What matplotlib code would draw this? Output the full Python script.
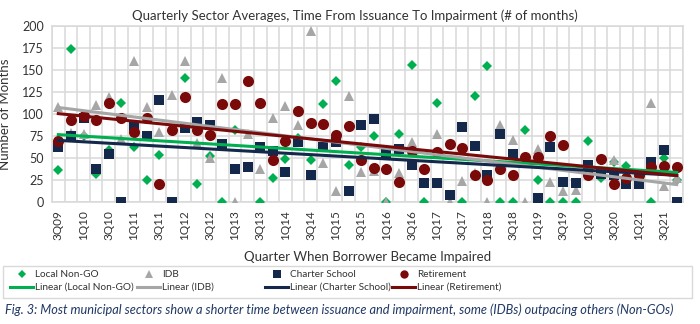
import numpy as np
import matplotlib
matplotlib.use("Agg")
import matplotlib.pyplot as plt
from matplotlib.patches import Rectangle

nan = np.nan
quarters = []
for y in range(9, 22):
    for q in range(1, 5):
        if y == 9 and q < 3:
            continue
        quarters.append(f"{q}Q{y:02d}")

local_non_go = [36, 174, 75, 32, 59, 113, 63, 25, 53, nan, 141, 20, 52, 0, 82, nan, 0, 27, 49, 73,
                48, 111, 138, 42, 63, 75, 0, 77, 156, 0, 113, nan, 0, 121, 154, 0, 0, 82, 25, 0,
                0, 0, 69, 27, 45, 41, nan, 0, 50, 25]
idb = [108, 78, 77, 110, 119, 72, 160, 108, 80, 122, 160, 67, 50, 141, 0, 77, 38, 96, 109, 88,
       194, 44, 13, 120, 34, 35, 0, 33, 68, nan, 77, 0, 24, 33, 0, 88, 70, 0, 60, 23,
       13, 14, nan, nan, 48, nan, nan, 113, 18, 27]
charter = [63, 75, 96, 37, 54, 0, 86, 75, 116, 0, 84, 91, 88, 66, 37, 40, 63, 58, 34, 68,
           31, 62, 68, 13, 87, 94, 55, 60, 42, 22, 22, 8, 85, 64, 31, 77, 55, nan, 5, 62,
           23, 22, 42, 32, 31, 20, 20, 45, 59, 0]
retirement = [69, 93, 98, 93, 112, 96, 80, 96, 20, 82, 119, 82, 76, 111, 111, 137, 113, 48, 69, 103,
              90, 89, 76, 86, 48, 39, 37, 23, 58, 37, 57, 66, 61, 31, 25, 37, 31, 51, 51, 75,
              65, nan, 31, 49, 21, 27, 31, 40, 41, 40]

series = [
    ("Local Non-GO", local_non_go, "D", 5.5, "#00B050"),
    ("IDB", idb, "^", 7.5, "#A6A6A6"),
    ("Charter School", charter, "s", 7.5, "#14284B"),
    ("Retirement", retirement, "o", 8, "#7A0A0A"),
]

plt.rcParams['font.family'] = ['Lato', 'DejaVu Sans']
txt = '#333333'

fig = plt.figure(figsize=(7.0, 3.24), dpi=100)
ax = fig.add_axes([52/700, 1-202/324, (683-52)/700, (202-26)/324])

x = np.arange(len(quarters))
handles = []
for name, vals, mk, ms, col in series:
    v = np.array(vals, dtype=float)
    h = ax.plot(x, v, linestyle='none', marker=mk, markersize=ms, color=col,
                markeredgewidth=0, zorder=3, label=name)[0]
    m = ~np.isnan(v)
    k, b = np.polyfit(x[m], v[m], 1)
    lh = ax.plot(x, k*x + b, color=col, linewidth=2.2, zorder=4,
                 label=f"Linear ({name})")[0]
    handles.append((h, lh))

ax.set_xlim(-0.5, len(quarters)-0.5)
ax.set_ylim(0, 200)
ax.set_yticks(np.arange(0, 201, 25))
ax.set_xticks(x[::2])
ax.set_xticklabels(quarters[::2], rotation=90, fontsize=8.5, color=txt)
ax.set_xticks(np.arange(-0.5, len(quarters), 1), minor=True)
ax.tick_params(axis='y', labelsize=9, colors=txt, length=0, pad=6)
ax.tick_params(axis='x', which='both', length=0, pad=6)
ax.grid(True, axis='y', which='major', color='#D9D9D9', linewidth=1.1)
ax.grid(True, axis='x', which='minor', color='#D9D9D9', linewidth=1.1)
ax.grid(False, axis='x', which='major')
ax.set_axisbelow(True)
for s in ax.spines.values():
    s.set_color('#D9D9D9')
    s.set_linewidth(1.1)

ax.set_ylabel("Number of Months", fontsize=9.5, color=txt, labelpad=8)
ax.set_xlabel("Quarter When Borrower Became Impaired", fontsize=9.5, color=txt, labelpad=8)
fig.text(0.507, 1-16/324, "Quarterly Sector Averages, Time From Issuance To Impairment (# of months)",
         ha='center', va='center', fontsize=9.5, color=txt)

# legend box
fig.patches.append(Rectangle((3/700, 1-298/324), 689/700, 32/324, transform=fig.transFigure,
                             fill=False, edgecolor='#D9D9D9', linewidth=1.0))
col_x = [10, 137, 265, 392]
for cx, (h, lh) in zip(col_x, handles):
    leg = fig.legend([h, lh], [h.get_label(), lh.get_label()], loc='center left',
                     bbox_to_anchor=(cx/700, 1-281/324), frameon=False, fontsize=7.2,
                     handlelength=2.3, handletextpad=0.2, labelspacing=0.4, borderpad=0,
                     borderaxespad=0, numpoints=1, markerscale=0.75)
    for t in leg.get_texts():
        t.set_color(txt)

fig.text(5/700, 1-310/324,
         "Fig. 3: Most municipal sectors show a shorter time between issuance and impairment, some (IDBs) outpacing others (Non-GOs)",
         ha='left', va='center', fontsize=9.2, style='italic', color='#1F3864')

fig.savefig("out.png", dpi=100)
